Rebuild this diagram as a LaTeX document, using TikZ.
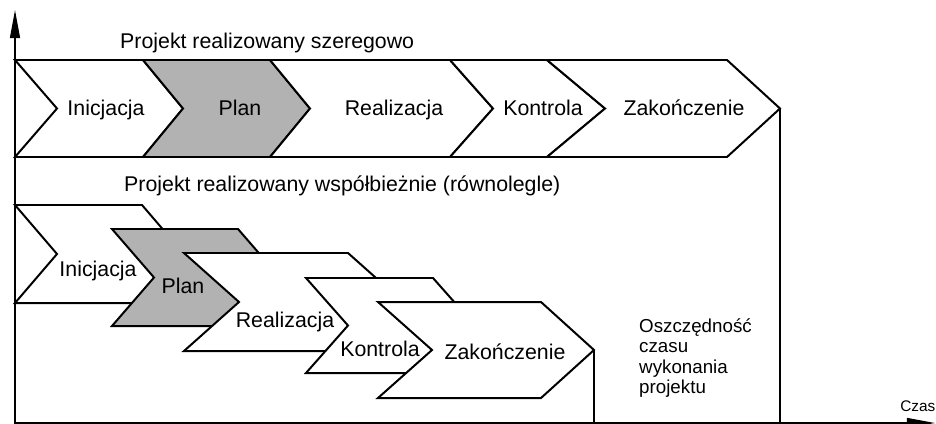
\documentclass[tikz,border=0pt]{standalone}
\usepackage{fontspec}
\setmainfont{Liberation Sans}
\usetikzlibrary{arrows.meta}
\tikzset{
  faza/.style={draw, line width=1.7pt, line join=miter, fill=white},
  fazaplan/.style={faza, fill=black!30},
  os/.style={line width=1.3pt, -{Triangle[length=24pt,width=8.5pt]}},
  znacznik/.style={line width=1.3pt},
  etykieta/.style={font=\fontsize{18.2}{21}\selectfont, inner sep=0pt, anchor=base},
  tytul/.style={etykieta, anchor=base west},
  uwaga/.style={font=\fontsize{16}{17.5}\selectfont, inner sep=0pt, align=left, anchor=north west},
}
% {styl}{x lewy}{x prawy}{y gora}{y dol}{wciecie}{grot}
\newcommand{\chevronfaza}[7]{\draw[#1] (#2,#4) -- (#3,#4) -- ({#3+#7},{(#4+#5)/2}) -- (#3,#5) -- (#2,#5) -- ({#2+#6},{(#4+#5)/2}) -- cycle;}
\begin{document}
\begin{tikzpicture}[x=0.03cm, y=-0.03cm]
  \useasboundingbox (0,0) rectangle (936,423);
  \coordinate (poczatek) at (15,423);
  \coordinate (osy) at (15,10);
  \coordinate (osx) at (935,423);
  \draw [os] (15,425) -- (osy);
  \draw [os] (poczatek) -- (osx);
  % szeregowo
  \node [tytul] (tszer) at (120,48) {Projekt realizowany szeregowo};
  \chevronfaza{faza}{15}{143}{60}{157}{42}{40}
  \chevronfaza{fazaplan}{143}{270}{60}{157}{40}{40}
  \chevronfaza{faza}{270}{450}{60}{157}{40}{43}
  \chevronfaza{faza}{450}{547}{60}{157}{43}{58}
  \chevronfaza{faza}{547}{727}{60}{157}{58}{53}
  \coordinate (koniecA) at (780,108.5);
  \node [etykieta] (a1) at (106,115) {Inicjacja};
  \node [etykieta] (a2) at (240,115) {Plan};
  \node [etykieta] (a3) at (394,115) {Realizacja};
  \node [etykieta] (a4) at (543,115) {Kontrola};
  \node [etykieta] (a5) at (684,115) {Zakończenie};
  % wspolbieznie
  \node [tytul] (twsp) at (124,191) {Projekt realizowany współbieżnie (równolegle)};
  \chevronfaza{faza}{15}{142}{205}{303}{42}{42}
  \chevronfaza{fazaplan}{112}{238}{229}{326}{42}{42}
  \chevronfaza{faza}{184}{348}{253}{351}{55}{55}
  \chevronfaza{faza}{306}{433}{278}{373}{42}{42}
  \chevronfaza{faza}{378}{541}{302}{398}{54}{53}
  \coordinate (koniecB) at (594,350);
  \node [etykieta] (b1) at (98,276) {Inicjacja};
  \node [etykieta] (b2) at (183,293) {Plan};
  \node [etykieta] (b3) at (285,327) {Realizacja};
  \node [etykieta] (b4) at (380,356) {Kontrola};
  \node [etykieta] (b5) at (505,359) {Zakończenie};
  % oszczednosc
  \draw [znacznik] (koniecA) -- (koniecA |- poczatek);
  \draw [znacznik] (koniecB) -- (koniecB |- poczatek);
  \node [uwaga] (oszcz) at (639,318) {Oszczędność\\czasu\\wykonania\\projektu};
  \node [font=\fontsize{13.1}{15}\selectfont, inner sep=0pt, anchor=base west] (czas) at (900,411) {Czas};
\end{tikzpicture}
\end{document}
